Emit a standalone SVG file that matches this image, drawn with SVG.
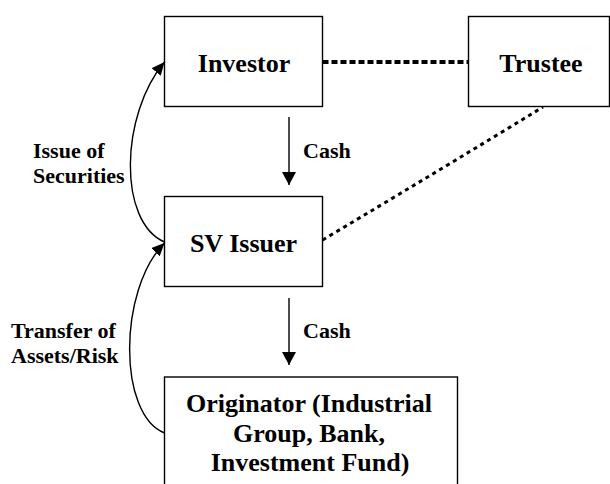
<svg xmlns="http://www.w3.org/2000/svg" width="610" height="484" viewBox="0 0 610 484">
<defs>
<style>
.box{fill:#fff;stroke:#000;stroke-width:1.4}
.node{font-family:"Liberation Serif","Times New Roman",serif;font-weight:bold;font-size:26px;fill:#000;text-anchor:middle}
.lbl{font-family:"Liberation Serif","Times New Roman",serif;font-weight:bold;font-size:22px;fill:#000}
.arr{fill:none;stroke:#000;stroke-width:1.4}
.dot1{fill:none;stroke:#000;stroke-width:4;stroke-dasharray:6 3}
.dot2{fill:none;stroke:#000;stroke-width:3;stroke-dasharray:4 4}
</style>
<marker id="ah" markerUnits="userSpaceOnUse" markerWidth="14" markerHeight="14" viewBox="0 0 14 14" refX="13" refY="7" orient="auto">
<path d="M0,0 L13,7 L0,14 Z" fill="#000"/>
</marker>
<marker id="ah2" markerUnits="userSpaceOnUse" markerWidth="14" markerHeight="12" viewBox="0 0 14 12" refX="13" refY="6" orient="auto">
<path d="M0,0 L13,6 L0,12 Z" fill="#000"/>
</marker>
</defs>
<g id="connectors">
<path class="dot1" d="M322.5,62 L468.5,62"/>
<path class="dot2" d="M322.5,240 Q440,170 543,107"/>
<path class="arr" d="M289,117 L289,185" marker-end="url(#ah)"/>
<path class="arr" d="M289,298 L289,365" marker-end="url(#ah)"/>
<path class="arr" d="M164.5,242 C118,222 120,115 164.5,62" marker-end="url(#ah2)"/>
<path class="arr" d="M164.5,433 C118,415 118,290 164.5,243" marker-end="url(#ah2)"/>
<text class="lbl" x="303" y="158">Cash</text>
<text class="lbl" x="303" y="338">Cash</text>
<text class="lbl" x="33" y="158">Issue of</text>
<text class="lbl" x="33" y="183">Securities</text>
<text class="lbl" x="11" y="338">Transfer of</text>
<text class="lbl" x="11" y="363">Assets/Risk</text>
</g>
<g id="investor">
<rect class="box" x="164.5" y="16.5" width="158" height="90"/>
<text class="node" x="244" y="71.5">Investor</text>
</g>
<g id="trustee">
<rect class="box" x="468.5" y="16.5" width="141" height="90"/>
<text class="node" x="541" y="71.5">Trustee</text>
</g>
<g id="sv-issuer">
<rect class="box" x="164.5" y="196.5" width="158" height="90"/>
<text class="node" x="243.5" y="251.5">SV Issuer</text>
</g>
<g id="originator">
<rect class="box" x="164.5" y="377" width="293" height="120"/>
<text class="node" x="309" y="411.5">Originator (Industrial</text>
<text class="node" x="309" y="441.5">Group, Bank,</text>
<text class="node" x="310" y="471">Investment Fund)</text>
</g>
</svg>
